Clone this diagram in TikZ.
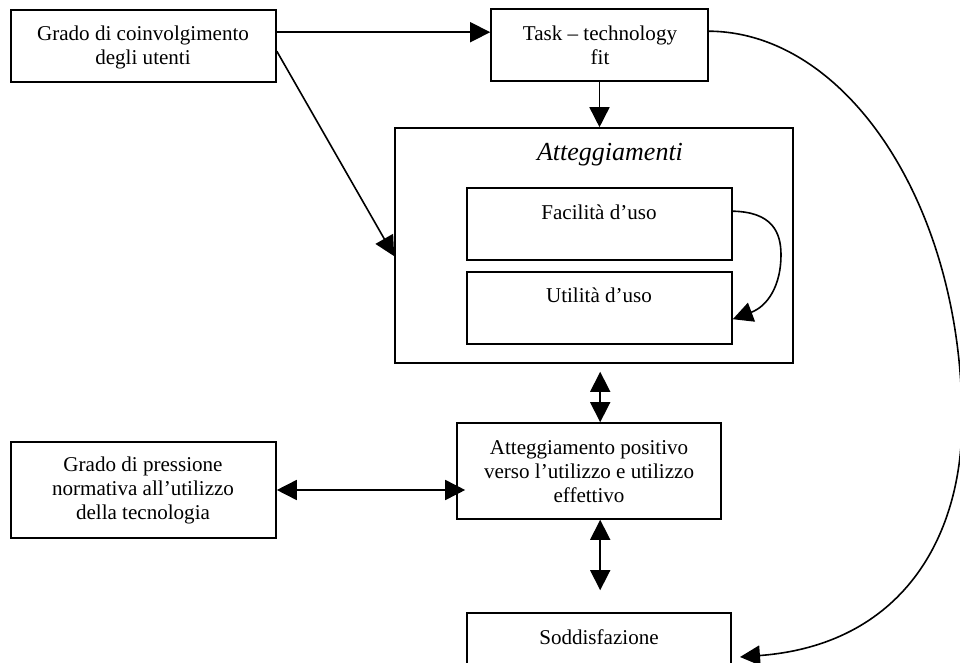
\documentclass[tikz,border=0pt]{standalone}
\usepackage{fontspec}
\setmainfont{Liberation Serif}
\usetikzlibrary{arrows.meta,calc,fit}

\begin{document}
\begin{tikzpicture}[x=0.75pt,y=-0.75pt,
  box/.style={draw, line width=1.2pt, inner sep=0pt},
  txt/.style={align=center, font=\fontsize{15.8pt}{18pt}\selectfont, inner sep=0pt},
  tip/.tip={Triangle[length=15pt,width=15pt]},
  arr/.style={line width=1.2pt, -tip},
  darr/.style={line width=1.2pt, tip-tip}]
\useasboundingbox (0,0) rectangle (960,663);
\clip (0,0) rectangle (960,663);
\fill[white] (0,0) rectangle (960,663);

% boxes
\node[box, fit={(11,10) (276,82)}] (coinv) {};
\node[box, fit={(491,9) (708,81)}] (task) {};
\node[box, fit={(395,128) (793,363)}] (att) {};
\node[box, fit={(467,188) (732,260)}] (fac) {};
\node[box, fit={(467,272) (732,344)}] (uti) {};
\node[box, fit={(457,423) (721,519)}] (pos) {};
\node[box, fit={(11,442) (276,538)}] (press) {};
\node[box, fit={(467,613) (731,700)}] (sod) {};

% labels
\node[txt] (tcoinv) at (143,47) {Grado di coinvolgimento\\degli utenti};
\node[txt] (ttask) at (600,45) {Task – technology\\fit};
\node[txt, font=\fontsize{19.5pt}{22pt}\selectfont\itshape] (tatt) at (610,155) {Atteggiamenti};
\node[txt] (tfac) at (599,212) {Facilità d’uso};
\node[txt] (tuti) at (599,295) {Utilità d’uso};
\node[txt] (tpos) at (589,472) {Atteggiamento positivo\\verso l’utilizzo e utilizzo\\effettivo};
\node[txt] (tpress) at (143,490) {Grado di pressione\\normativa all’utilizzo\\della tecnologia};
\node[txt] (tsod) at (599,637) {Soddisfazione};

\coordinate (sodtip) at (740,657);

% connectors
\draw[arr] ($(coinv.north east)+(0,23)$) -- ($(task.north west)+(0,24)$);
\draw[arr] (task.south) -- (task.south |- att.north);
\draw[arr] ($(coinv.north east)+(0,42)$) -- ($(att.north west)+(0,129)$);
\draw[arr] ($(fac.north east)+(0,24)$) .. controls (772,212) and (781,232) .. (781,255)
  .. controls (781,285) and (768,306) .. ($(uti.north east)+(0,48)$);
\draw[darr] ($(att.south west)+(206,8)$) -- ($(pos.north west)+(144,0)$);
\draw[darr] ($(pos.south west)+(144,0)$) -- ($(sod.north west)+(134,-22)$);
\draw[darr] (press.east) -- ($(press.east -| pos.west)+(9,0)$);
\draw[arr] ($(task.north east)+(0,23)$) .. controls (847,32) and (962,206) .. (962,420)
  .. controls (962,540) and (900,645) .. (sodtip);
\end{tikzpicture}
\end{document}
